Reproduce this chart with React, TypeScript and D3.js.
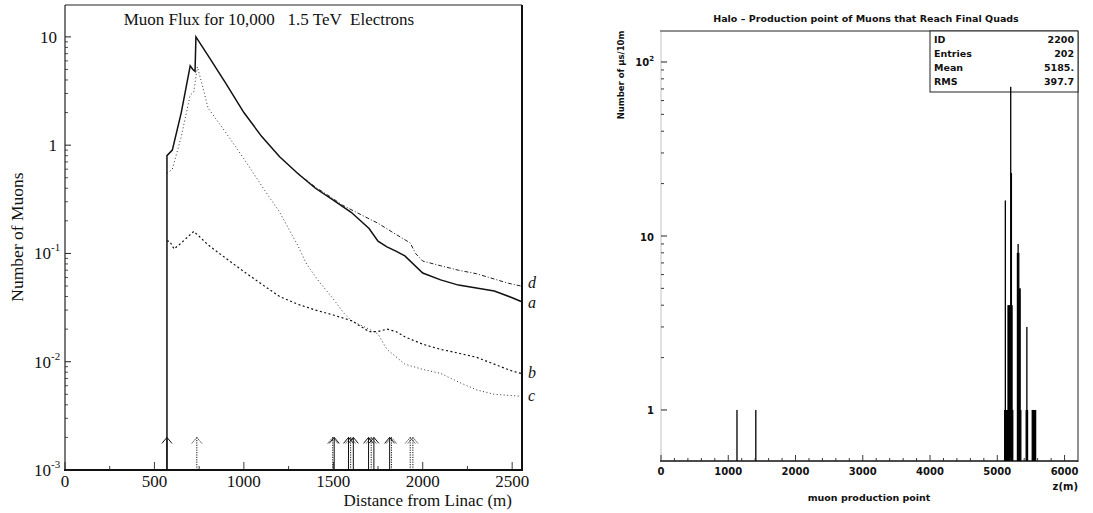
import React from "react";
import * as d3 from "d3";

// ---------- Left chart data ----------
const curveA: [number, number][] = [
  [570, 0.001], [570, 0.8], [600, 0.9], [650, 2.0], [700, 5.4], [715, 5.0], [727, 4.8], [732, 10],
  [800, 6.7], [900, 3.7], [1000, 2.0], [1100, 1.2], [1200, 0.78], [1300, 0.55], [1400, 0.4],
  [1500, 0.31], [1600, 0.24], [1700, 0.17], [1750, 0.13], [1800, 0.115], [1850, 0.105],
  [1900, 0.095], [2000, 0.066], [2100, 0.057], [2200, 0.051], [2300, 0.048], [2400, 0.045],
  [2500, 0.039], [2550, 0.036],
];
const curveB: [number, number][] = [
  [570, 0.13], [585, 0.13], [610, 0.11], [650, 0.125], [720, 0.16], [800, 0.12], [900, 0.09],
  [1000, 0.068], [1100, 0.052], [1200, 0.04], [1300, 0.034], [1400, 0.03], [1500, 0.027],
  [1600, 0.024], [1700, 0.019], [1750, 0.019], [1800, 0.02], [1850, 0.019], [1900, 0.017],
  [2000, 0.0145], [2100, 0.013], [2200, 0.012], [2300, 0.011], [2400, 0.0095], [2500, 0.0082],
  [2550, 0.0078],
];
const curveC: [number, number][] = [
  [570, 0.55], [600, 0.6], [650, 1.2], [700, 2.9], [720, 3.1], [740, 5.3], [760, 4.0],
  [800, 2.2], [900, 1.3], [1000, 0.75], [1100, 0.42], [1200, 0.24], [1300, 0.12], [1350, 0.08],
  [1420, 0.055], [1500, 0.038], [1560, 0.028], [1600, 0.024], [1700, 0.02], [1750, 0.018],
  [1800, 0.013], [1900, 0.0095], [2000, 0.0085], [2100, 0.0078], [2200, 0.0065],
  [2300, 0.0055], [2400, 0.005], [2550, 0.0048],
];
const curveD: [number, number][] = [
  [1300, 0.55], [1400, 0.41], [1500, 0.32], [1550, 0.28], [1650, 0.23], [1750, 0.19],
  [1850, 0.15], [1930, 0.125], [1960, 0.1], [2000, 0.085], [2100, 0.077], [2200, 0.07],
  [2300, 0.065], [2400, 0.058], [2480, 0.053], [2550, 0.05],
];
const curveLabels = [
  { name: "d", end: 0.05 },
  { name: "a", end: 0.036 },
  { name: "b", end: 0.0078 },
  { name: "c", end: 0.0048 },
];
const arrowXs = [570, 737, 1497, 1505, 1585, 1597, 1612, 1697, 1712, 1727, 1815, 1825, 1930, 1945];
const arrowDotted = [false, true, true, false, false, true, false, false, true, false, false, true, true, true];
const leftXTicks = [0, 500, 1000, 1500, 2000, 2500];
const leftYDecades = [-3, -2, -1, 0, 1];

// ---------- Right chart data ----------
const binStarts = [
  1120, 1400,
  5100, 5110, 5120, 5130, 5140, 5150, 5160, 5170, 5180, 5190, 5200, 5210, 5220,
  5290, 5300, 5310, 5320, 5330, 5340,
  5420, 5430, 5440,
  5510, 5520, 5530, 5540, 5550, 5560,
];
const binCounts = [
  1, 1,
  1, 16, 1, 1, 1, 4, 4, 4, 4, 72, 23, 4, 1,
  8, 9, 8, 5, 5, 1,
  1, 3, 1,
  1, 1, 1, 1, 1, 1,
];
const statNames = ["ID", "Entries", "Mean", "RMS"];
const statValues = ["2200", "202", "5185.", "397.7"];
const rightXTicks = [0, 1000, 2000, 3000, 4000, 5000, 6000];

export default function App() {
  // left scales
  const lx = d3.scaleLinear().domain([0, 2555]).range([65, 522]);
  const ly = d3.scaleLog().domain([0.001, 19.7]).range([470, 5]);
  const line = d3
    .line<[number, number]>()
    .x((d) => lx(d[0]))
    .y((d) => ly(d[1]));

  // right scales
  const rx = d3.scaleLinear().domain([0, 6200]).range([661, 1078]);
  const ry = d3.scaleLog().domain([0.509, 150.7]).range([461, 31]);

  const serif = "'Liberation Serif', 'DejaVu Serif', serif";
  const sans = "'DejaVu Sans', 'Liberation Sans', sans-serif";

  const leftMinor: number[] = [];
  leftYDecades.forEach((e) => {
    for (let k = 2; k <= 9; k++) {
      const v = k * Math.pow(10, e);
      if (v < 19.7) leftMinor.push(v);
    }
  });
  const rightMinor: number[] = [];
  [0, 1, 2].forEach((e) => {
    for (let k = 2; k <= 9; k++) {
      const v = k * Math.pow(10, e);
      if (v < 150) rightMinor.push(v);
    }
  });
  const xMinorL = d3.range(0, 2555, 250);
  const xMinorR = d3.range(0, 6200, 200);

  const arrowTip = ly(0.002);
  const arrowBase = ly(0.001);
  const labelNudge: Record<string, number> = { d: 2, a: 7, b: 5, c: 5 };

  return (
    <svg
      width={1093}
      height={513}
      style={{ position: "absolute", left: 0, top: 0, background: "#fff" }}
    >
      <rect x={0} y={0} width={1093} height={513} fill="#fff" />
      {/* ================= LEFT CHART ================= */}
      <g fontFamily={serif} fill="#111">
        {/* frame */}
        <line x1={65} y1={5} x2={522} y2={5} stroke="#222" strokeWidth={1} />
        <line x1={65} y1={5} x2={65} y2={470} stroke="#222" strokeWidth={1.2} />
        <line x1={522} y1={5} x2={522} y2={471} stroke="#111" strokeWidth={2} />
        <line x1={64} y1={470} x2={523} y2={470} stroke="#111" strokeWidth={2} />
        {/* y ticks */}
        {leftYDecades.map((e) => (
          <line key={"ly" + e} x1={65} x2={71} y1={ly(Math.pow(10, e))} y2={ly(Math.pow(10, e))} stroke="#222" />
        ))}
        {leftMinor.map((v, i) => (
          <line key={"lym" + i} x1={65} x2={68} y1={ly(v)} y2={ly(v)} stroke="#222" strokeWidth={0.8} />
        ))}
        {/* x ticks */}
        {xMinorL.map((v) => (
          <line key={"lxm" + v} x1={lx(v)} x2={lx(v)} y1={470} y2={v % 500 === 0 ? 462 : 466} stroke="#222" strokeWidth={0.9} />
        ))}
        {/* y tick labels */}
        {leftYDecades.map((e) => {
          const y = ly(Math.pow(10, e));
          if (e === 0)
            return (
              <text key={"lt" + e} x={57} y={y + 6} textAnchor="end" fontSize={17}>1</text>
            );
          if (e === 1)
            return (
              <text key={"lt" + e} x={57} y={y + 6} textAnchor="end" fontSize={17}>10</text>
            );
          return (
            <text key={"lt" + e} x={34} y={y + 6} fontSize={17}>
              10<tspan dy={-8} fontSize={11}>{String(e)}</tspan>
            </text>
          );
        })}
        {/* x tick labels */}
        {leftXTicks.map((v) => (
          <text key={"lxt" + v} x={lx(v)} y={487} textAnchor="middle" fontSize={17}>{v}</text>
        ))}
        <text x={512} y={506} textAnchor="end" fontSize={17}>Distance from Linac (m)</text>
        <text transform="translate(23,237) rotate(-90)" textAnchor="middle" fontSize={17.5}>Number of Muons</text>
        <text x={269} y={25} textAnchor="middle" fontSize={17} style={{ whiteSpace: "pre" }}>
          {"Muon Flux for 10,000   1.5 TeV  Electrons"}
        </text>

        {/* curves */}
        <path d={line(curveD) || ""} fill="none" stroke="#222" strokeWidth={1} strokeDasharray="4,2,1,2" />
        <path d={line(curveC) || ""} fill="none" stroke="#333" strokeWidth={1} strokeDasharray="1,2.5" />
        <path d={line(curveB) || ""} fill="none" stroke="#111" strokeWidth={1.2} strokeDasharray="2,2.5" />
        <path d={line(curveA) || ""} fill="none" stroke="#111" strokeWidth={1.5} />

        {/* curve labels */}
        {curveLabels.map((c) => (
          <text key={c.name} x={528} y={ly(c.end) + labelNudge[c.name]} fontSize={16} fontStyle="italic">{c.name}</text>
        ))}

        {/* arrows */}
        {arrowXs.map((v, i) => {
          const x = lx(v);
          const dash = arrowDotted[i] ? "1.2,1.2" : undefined;
          return (
            <g key={"ar" + i} stroke="#111" strokeWidth={1} fill="none" strokeDasharray={dash}>
              <line x1={x} x2={x} y1={arrowBase} y2={arrowTip} />
              <polyline points={`${x - 5},${arrowTip + 6} ${x},${arrowTip} ${x + 5},${arrowTip + 6}`} />
            </g>
          );
        })}
      </g>

      {/* ================= RIGHT CHART ================= */}
      <g fontFamily={sans} fill="#111">
        <text x={866} y={22} textAnchor="middle" fontSize={9.5} fontWeight="bold">
          Halo – Production point of Muons that Reach Final Quads
        </text>
        {/* frame */}
        <line x1={660} y1={31} x2={1078} y2={31} stroke="#222" strokeWidth={1} />
        <line x1={1078} y1={31} x2={1078} y2={462} stroke="#222" strokeWidth={1} />
        <line x1={660} y1={461} x2={1078} y2={461} stroke="#111" strokeWidth={1.3} />
        <line x1={661} y1={31} x2={661} y2={461} stroke="#999" strokeWidth={0.6} />
        {/* stats box */}
        <rect x={930} y={31} width={148} height={61} fill="#fff" stroke="#222" strokeWidth={1} />
        {statNames.map((n, i) => (
          <g key={n}>
            <text x={934} y={43 + i * 14} fontSize={9.5} fontWeight="bold">{n}</text>
            <text x={1074} y={43 + i * 14} fontSize={9.5} fontWeight="bold" textAnchor="end">{statValues[i]}</text>
          </g>
        ))}
        {/* bars */}
        {binStarts.map((b, i) => (
          <rect
            key={"bin" + i}
            x={rx(b)}
            y={ry(binCounts[i])}
            width={Math.max(1.3, rx(b + 10) - rx(b))}
            height={461 - ry(binCounts[i])}
            fill="#000"
          />
        ))}
        {/* y ticks */}
        {[1, 10, 100].map((v) => (
          <line key={"ry" + v} x1={661} x2={667} y1={ry(v)} y2={ry(v)} stroke="#222" strokeWidth={1} />
        ))}
        {rightMinor.map((v, i) => (
          <line key={"rym" + i} x1={661} x2={664} y1={ry(v)} y2={ry(v)} stroke="#222" strokeWidth={0.9} />
        ))}
        {/* x ticks */}
        {xMinorR.map((v) => (
          <line key={"rxm" + v} x1={rx(v)} x2={rx(v)} y1={461} y2={v % 1000 === 0 ? 455 : 458} stroke="#222" strokeWidth={0.9} />
        ))}
        {/* labels */}
        <text x={654} y={414} textAnchor="end" fontSize={10} fontWeight="bold">1</text>
        <text x={654} y={241} textAnchor="end" fontSize={10} fontWeight="bold">10</text>
        <text x={654} y={66} textAnchor="end" fontSize={10} fontWeight="bold">
          10<tspan dy={-5} fontSize={7}>2</tspan>
        </text>
        {rightXTicks.map((v) => (
          <text key={"rxt" + v} x={rx(v)} y={475} textAnchor="middle" fontSize={10} fontWeight="bold">{v}</text>
        ))}
        <text x={1078} y={490} textAnchor="end" fontSize={10} fontWeight="bold">z(m)</text>
        <text x={869} y={501} textAnchor="middle" fontSize={9.5} fontWeight="bold">muon production point</text>
        <text transform="translate(624,75) rotate(-90)" textAnchor="middle" fontSize={8.5} fontWeight="bold">
          Number of μs/10m
        </text>
      </g>
    </svg>
  );
}
